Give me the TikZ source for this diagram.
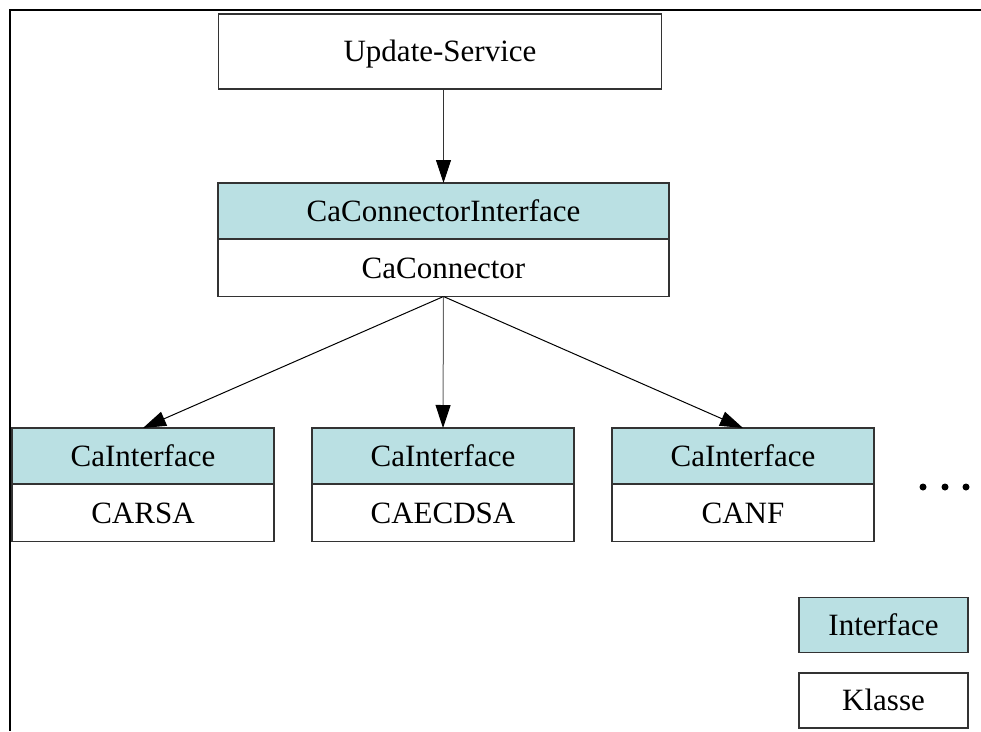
\documentclass[tikz,border=0pt]{standalone}
\usepackage{fontspec}
\setmainfont{Liberation Serif}
\usetikzlibrary{arrows.meta}
\definecolor{ifacefill}{HTML}{BAE0E3}
\definecolor{boxline}{HTML}{333333}
\tikzset{
  box/.style={draw=boxline, line width=1.3pt, rectangle, inner sep=0pt, outer sep=0pt,
              font=\fontsize{31}{36}\selectfont, text=black,
              text height=24.8pt, text depth=4.3pt},
  iface/.style={box, fill=ifacefill},
  klass/.style={box, fill=white},
  link/.style={line width=1pt, -{Triangle[length=23pt,width=15pt,color=black,fill=black]}},
  frameline/.style={line width=2pt, black}
}
\begin{document}
\begin{tikzpicture}[x=1pt,y=-1pt]
  \useasboundingbox (0,0) rectangle (981,731);
  % outer frame (only top and left edges are visible)
  \draw[frameline] (981,10) -- (9.5,10) -- (9.5,731);

  % top service
  \node[klass, minimum width=443pt, minimum height=75pt] (upd) at (440,51.5) {Update-Service};

  % connector: interface part on top of the class part
  \node[iface, minimum width=451pt, minimum height=56pt] (cci) at (443.5,211) {CaConnectorInterface};
  \node[klass, minimum width=451pt, minimum height=57.5pt, anchor=north] (cc) at (cci.south) {CaConnector};

  % the three implementations
  \node[iface, minimum width=262pt, minimum height=56pt] (ia) at (143,456) {CaInterface};
  \node[klass, minimum width=262pt, minimum height=57.5pt, anchor=north] (ka) at (ia.south) {CARSA};
  \node[iface, minimum width=262pt, minimum height=56pt] (ib) at (443,456) {CaInterface};
  \node[klass, minimum width=262pt, minimum height=57.5pt, anchor=north] (kb) at (ib.south) {CAECDSA};
  \node[iface, minimum width=262pt, minimum height=56pt] (ic) at (743,456) {CaInterface};
  \node[klass, minimum width=262pt, minimum height=57.5pt, anchor=north] (kc) at (ic.south) {CANF};

  % more implementations follow
  \foreach \dx in {923,945,966} \fill (\dx,487) circle (3.5pt);

  % legend
  \node[iface, minimum width=169pt, minimum height=55pt] (legi) at (883.5,625) {Interface};
  \node[klass, minimum width=169pt, minimum height=55pt] (legk) at (883.5,700.5) {Klasse};

  % dependencies
  \draw[link, draw=black!80] (upd.south -| cci.north) -- (cci.north);
  \draw[link] (cc.south) -- (ia.north);
  \draw[link, draw=black!60] (cc.south) -- (ib.north);
  \draw[link] (cc.south) -- (ic.north);
\end{tikzpicture}
\end{document}
